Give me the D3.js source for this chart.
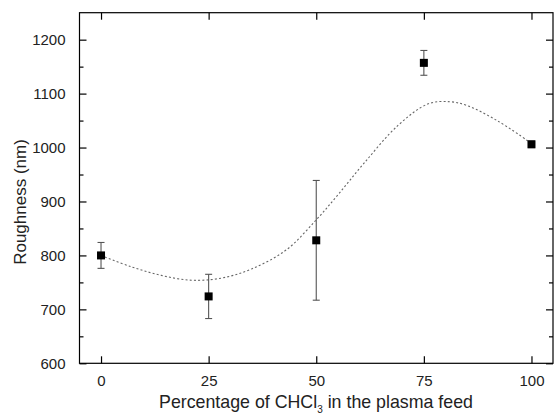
<!DOCTYPE html>
<html><head><meta charset="utf-8">
<script src="https://cdn.jsdelivr.net/npm/d3@7"></script>
<style>body{margin:0;background:#fff}svg{display:block}text{font-family:"Liberation Sans",Arial,sans-serif}</style>
</head><body><svg id="c" width="556" height="416"></svg>
<script>
const xValues = [0, 25, 50, 75, 100];
const roughness = [800, 724, 828, 1157, 1006];
const errors = [24, 41, 111, 23, 6];
const fitX = [0, 7, 14, 21, 28, 35, 43, 50, 55, 61, 69, 76, 81, 85, 92, 99, 100];
const fitY = [800, 779, 763, 754, 758, 775, 810, 866, 912, 970, 1041, 1081, 1085, 1078, 1050, 1013, 1006];
const xTicks = [0, 25, 50, 75, 100];
const yTicks = [600, 700, 800, 900, 1000, 1100, 1200];
const yMinor = [650, 750, 850, 950, 1050, 1150];

const svg = d3.select("#c");
const L = 79.5, R = 553, T = 12.7, B = 363.3;
const x = d3.scaleLinear().domain([-5, 105]).range([L, R]);
const y = d3.scaleLinear().domain([600, 1250]).range([B, T]);

svg.append("rect").attr("x", L).attr("y", T).attr("width", R - L).attr("height", B - T)
  .attr("fill", "none").attr("stroke", "#000").attr("stroke-width", 1.2);

const g = svg.append("g");
g.append("g").attr("transform", `translate(0,${B})`)
  .call(d3.axisBottom(x).tickValues(xTicks).tickSize(-7).tickPadding(12).tickFormat(d3.format("d")));
g.append("g").attr("transform", `translate(0,${T})`)
  .call(d3.axisTop(x).tickValues(xTicks).tickSize(-7).tickFormat(""));
g.append("g").attr("transform", `translate(${L},0)`)
  .call(d3.axisLeft(y).tickValues(yTicks).tickSize(-7).tickPadding(14).tickFormat(d3.format("d")));
g.append("g").attr("transform", `translate(${L},0)`)
  .call(d3.axisLeft(y).tickValues(yMinor).tickSize(-4).tickFormat(""));
g.append("g").attr("transform", `translate(${R},0)`)
  .call(d3.axisRight(y).tickValues(yTicks).tickSize(-7).tickFormat(""));
g.append("g").attr("transform", `translate(${R},0)`)
  .call(d3.axisRight(y).tickValues(yMinor).tickSize(-4).tickFormat(""));
g.selectAll(".domain").remove();
g.selectAll(".tick line").attr("stroke", "#000").attr("stroke-width", 1.2);
g.selectAll(".tick text").attr("fill", "#222").style("font-size", "15px")
  .style("font-family", '"Liberation Sans", Arial, sans-serif');

const fit = fitX.map((d, i) => [d, fitY[i]]);
svg.append("path").datum(fit)
  .attr("d", d3.line().x(d => x(d[0])).y(d => y(d[1])).curve(d3.curveCatmullRom))
  .attr("fill", "none").attr("stroke", "#666").attr("stroke-width", 1.1)
  .attr("stroke-dasharray", "2,2.2");

const pts = xValues.map((d, i) => ({x: d, y: roughness[i], e: errors[i]}));
const eb = svg.append("g").attr("stroke", "#555").attr("stroke-width", 1.1);
eb.selectAll(".v").data(pts).join("line")
  .attr("x1", d => x(d.x)).attr("x2", d => x(d.x))
  .attr("y1", d => y(d.y - d.e)).attr("y2", d => y(d.y + d.e));
eb.selectAll(".t").data(pts).join("line")
  .attr("x1", d => x(d.x) - 3.5).attr("x2", d => x(d.x) + 3.5)
  .attr("y1", d => y(d.y + d.e)).attr("y2", d => y(d.y + d.e));
eb.selectAll(".b").data(pts).join("line")
  .attr("x1", d => x(d.x) - 3.5).attr("x2", d => x(d.x) + 3.5)
  .attr("y1", d => y(d.y - d.e)).attr("y2", d => y(d.y - d.e));

svg.append("g").selectAll("rect").data(pts).join("rect")
  .attr("x", d => x(d.x) - 4).attr("y", d => y(d.y) - 4)
  .attr("width", 8).attr("height", 8).attr("fill", "#000");

svg.append("text").attr("transform", `translate(26,202) rotate(-90)`)
  .attr("text-anchor", "middle").style("font-size", "17px").attr("fill", "#222")
  .text("Roughness (nm)");
const xtTitle = svg.append("text").attr("x", 316).attr("y", 408)
  .attr("text-anchor", "middle").style("font-size", "17.8px").attr("fill", "#222");
xtTitle.append("tspan").text("Percentage of CHCl");
xtTitle.append("tspan").attr("dy", 5).style("font-size", "10px").text("3");
xtTitle.append("tspan").attr("dy", -5).text(" in the plasma feed");
</script></body></html>
